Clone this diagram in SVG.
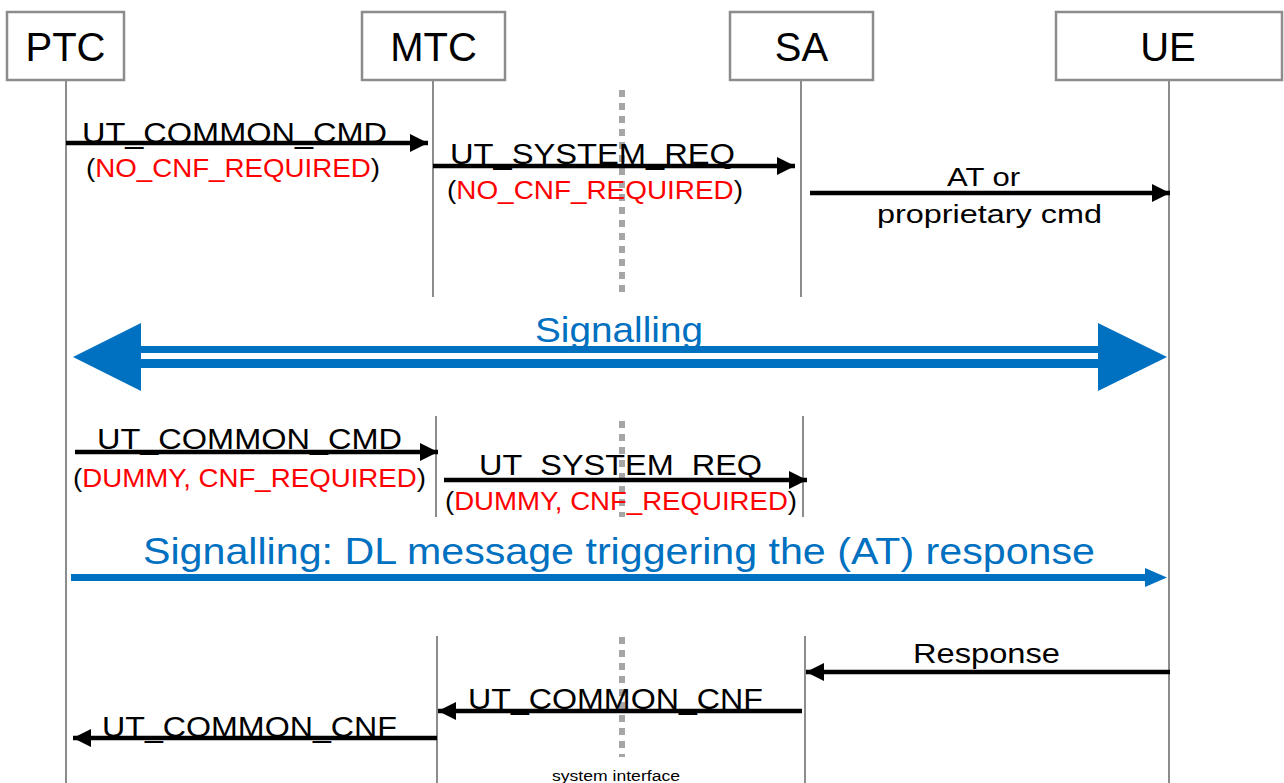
<svg xmlns="http://www.w3.org/2000/svg" width="1284" height="783" viewBox="0 0 1284 783">
<style>
.box{fill:#fff;stroke:#8c8c8c;stroke-width:2.5}
.life{stroke:#8c8c8c;stroke-width:2;fill:none}
.sys{stroke:#a6a6a6;stroke-width:6;stroke-dasharray:7 6;fill:none}
.msg{stroke:#000;stroke-width:4.5;fill:none}
.t{font-family:"Liberation Sans",Arial,sans-serif;fill:#000}
.r{fill:#ff0000}
.blue{fill:#0070c0}
.bl{stroke:#0070c0;fill:none}
</style>
<defs>
<marker id="ah" viewBox="0 0 10 10" refX="10" refY="5" markerWidth="4" markerHeight="4" markerUnits="strokeWidth" orient="auto">
<path d="M0,0 L10,5 L0,10 z" fill="#000"/>
</marker>
</defs>
<g id="PTC">
<rect class="box" x="7" y="12" width="117" height="68"/>
<text class="t" x="65.5" y="61" font-size="40" text-anchor="middle">PTC</text>
</g>
<g id="MTC">
<rect class="box" x="362" y="12" width="143" height="68"/>
<text class="t" x="433.5" y="61" font-size="40" text-anchor="middle">MTC</text>
</g>
<g id="SA">
<rect class="box" x="730" y="12" width="143" height="68"/>
<text class="t" x="801.5" y="61" font-size="40" text-anchor="middle">SA</text>
</g>
<g id="UE">
<rect class="box" x="1056" y="12" width="226" height="68"/>
<text class="t" x="1168" y="61" font-size="40" text-anchor="middle">UE</text>
</g>
<g id="lifelines">
<line class="life" x1="66" y1="80" x2="66" y2="783"/>
<line class="life" x1="1169" y1="80" x2="1169" y2="783"/>
<line class="life" x1="433" y1="80" x2="433" y2="297"/>
<line class="life" x1="801" y1="80" x2="801" y2="297"/>
<line class="life" x1="436" y1="416" x2="436" y2="517"/>
<line class="life" x1="803" y1="416" x2="803" y2="517"/>
<line class="life" x1="437" y1="636" x2="437" y2="783"/>
<line class="life" x1="805" y1="636" x2="805" y2="783"/>
<line class="sys" x1="622" y1="90" x2="622" y2="297"/>
<line class="sys" x1="622" y1="421" x2="622" y2="517"/>
<line class="sys" x1="622" y1="637" x2="622" y2="757"/>
</g>
<g id="connectors">
<line class="msg" x1="66" y1="143" x2="428" y2="143" marker-end="url(#ah)"/>
<line class="msg" x1="433" y1="166" x2="795" y2="166" marker-end="url(#ah)"/>
<line class="msg" x1="810" y1="193" x2="1170" y2="193" marker-end="url(#ah)"/>
<rect x="141" y="346" width="957" height="7" fill="#0070c0"/>
<rect x="141" y="359" width="957" height="9" fill="#0070c0"/>
<polygon points="73,357 141,323 141,391" fill="#0070c0"/>
<polygon points="1167,357 1098,323 1098,391" fill="#0070c0"/>
<line class="msg" x1="75" y1="452" x2="438" y2="452" marker-end="url(#ah)"/>
<line class="msg" x1="444" y1="480" x2="807" y2="480" marker-end="url(#ah)"/>
<rect x="71" y="574" width="1080" height="7" fill="#0070c0"/>
<polygon points="1167,577.5 1145,568 1145,587" fill="#0070c0"/>
<line class="msg" x1="1170" y1="672" x2="806" y2="672" marker-end="url(#ah)"/>
<line class="msg" x1="802" y1="711" x2="438" y2="711" marker-end="url(#ah)"/>
<line class="msg" x1="437" y1="738" x2="73" y2="738" marker-end="url(#ah)"/>
</g>
<g id="labels">
<text class="t" x="82" y="143" font-size="29" textLength="305" lengthAdjust="spacingAndGlyphs">UT_COMMON_CMD</text>
<text class="t" x="86" y="177" font-size="25" textLength="294" lengthAdjust="spacingAndGlyphs">(<tspan class="r">NO_CNF_REQUIRED</tspan>)</text>
<text class="t" x="450" y="164" font-size="29" textLength="285" lengthAdjust="spacingAndGlyphs">UT_SYSTEM_REQ</text>
<text class="t" x="447" y="199" font-size="25" textLength="296" lengthAdjust="spacingAndGlyphs">(<tspan class="r">NO_CNF_REQUIRED</tspan>)</text>
<text class="t" x="947" y="186" font-size="26" textLength="73" lengthAdjust="spacingAndGlyphs">AT or</text>
<text class="t" x="877" y="223" font-size="26" textLength="225" lengthAdjust="spacingAndGlyphs">proprietary cmd</text>
<text class="t blue" x="535" y="342" font-size="35" textLength="168" lengthAdjust="spacingAndGlyphs">Signalling</text>
<text class="t" x="97" y="449" font-size="29" textLength="305" lengthAdjust="spacingAndGlyphs">UT_COMMON_CMD</text>
<text class="t" x="73" y="487" font-size="25" textLength="353" lengthAdjust="spacingAndGlyphs">(<tspan class="r">DUMMY, CNF_REQUIRED</tspan>)</text>
<text class="t" x="479" y="475" font-size="29" textLength="283" lengthAdjust="spacingAndGlyphs">UT_SYSTEM_REQ</text>
<text class="t" x="445" y="510" font-size="25" textLength="352" lengthAdjust="spacingAndGlyphs">(<tspan class="r">DUMMY, CNF_REQUIRED</tspan>)</text>
<text class="t blue" x="143" y="564" font-size="36" textLength="952" lengthAdjust="spacingAndGlyphs">Signalling: DL message triggering the (AT) response</text>
<text class="t" x="913" y="663" font-size="27" textLength="147" lengthAdjust="spacingAndGlyphs">Response</text>
<text class="t" x="468" y="709" font-size="29" textLength="295" lengthAdjust="spacingAndGlyphs">UT_COMMON_CNF</text>
<text class="t" x="102" y="737" font-size="29" textLength="295" lengthAdjust="spacingAndGlyphs">UT_COMMON_CNF</text>
<text class="t" x="552" y="781" font-size="14" textLength="128" lengthAdjust="spacingAndGlyphs">system interface</text>
</g>
</svg>
